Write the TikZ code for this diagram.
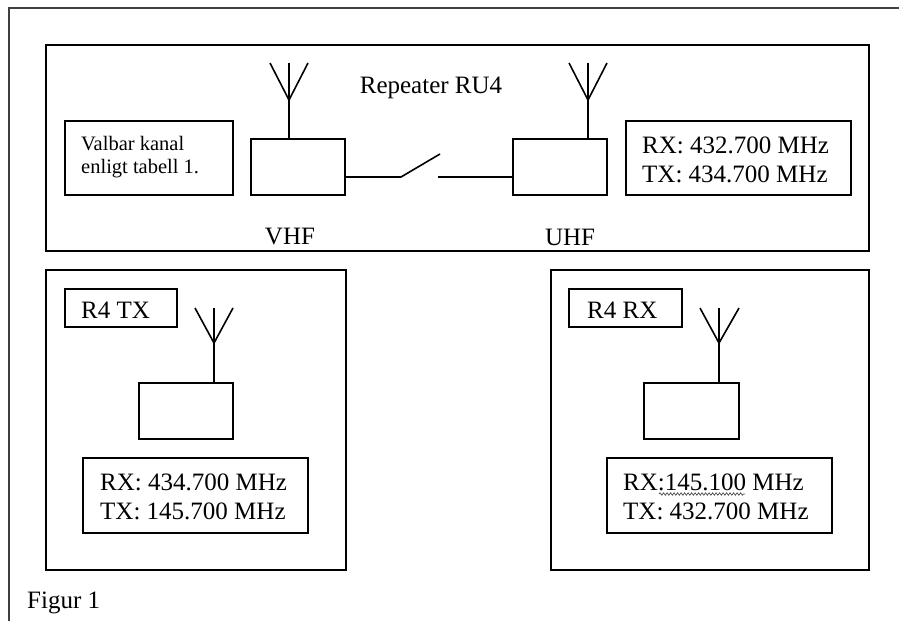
\documentclass[tikz,border=0pt]{standalone}
\usepackage{fontspec}
\setmainfont{Liberation Serif}
\usetikzlibrary{decorations.pathmorphing}
\begin{document}
\begin{tikzpicture}[x=1pt,y=-1pt,
  box/.style={draw=black,line width=1.6pt,inner sep=0pt,rectangle},
  wire/.style={draw=black,line width=1.6pt},
  lbl/.style={inner sep=0pt,font=\fontsize{25}{29}\selectfont,align=left},
  small/.style={inner sep=0pt,font=\fontsize{20.5}{23}\selectfont,align=left},
  frame/.style={draw=black!75,line width=2.2pt}]
\useasboundingbox (0,0) rectangle (899,621);
% outer frame (open to right and bottom)
\coordinate (f1) at (9,621);
\coordinate (f2) at (9,8);
\coordinate (f3) at (899,8);
\draw[frame] (f1) -- (f2) -- (f3);
% repeater box
\node[box,minimum width=823pt,minimum height=206pt] (rep) at (457.5,148) {};
\node[lbl] (reptxt) at (431,88) {Repeater RU4};
\node[box,minimum width=168pt,minimum height=74pt] (valbar) at (149,158) {};
\node[small,anchor=west] (valtxt) at (81,157) {Valbar kanal\\enligt tabell 1.};
% VHF
\node[box,minimum width=94pt,minimum height=56pt] (vhf) at (298,167) {};
\coordinate (vhfv) at (289,100);
\coordinate (vhft) at (289,63);
\coordinate (vhfl) at (270,63);
\coordinate (vhfr) at (308,63);
\draw[wire] (vhfv |- vhf.north) -- (vhft);
\draw[wire] (vhfl) -- (vhfv) -- (vhfr);
\node[lbl] (vhftxt) at (290,237) {VHF};
% UHF
\node[box,minimum width=94pt,minimum height=56pt] (uhf) at (560,167) {};
\coordinate (uhfv) at (588,100);
\coordinate (uhft) at (588,63);
\coordinate (uhfl) at (569,63);
\coordinate (uhfr) at (607,63);
\draw[wire] (uhfv |- uhf.north) -- (uhft);
\draw[wire] (uhfl) -- (uhfv) -- (uhfr);
\node[lbl] (uhftxt) at (570,237) {UHF};
% switch
\coordinate (sw1) at (401,177);
\coordinate (sw2) at (440,154);
\coordinate (sw3) at (438,177);
\draw[wire] (vhf.east |- sw1) -- (sw1) -- (sw2);
\draw[wire] (sw3) -- (uhf.west |- sw3);
% top frequency box
\node[box,minimum width=225pt,minimum height=74pt] (repf) at (738.5,158) {};
\node[lbl,anchor=west] (repftxt) at (642,160) {RX: 432.700 MHz\\TX: 434.700 MHz};
% R4 TX
\node[box,minimum width=300pt,minimum height=300pt] (tx) at (196,420) {};
\node[box,minimum width=112pt,minimum height=38pt] (txl) at (121,308) {};
\node[lbl,anchor=west] (txltxt) at (81,310) {R4 TX};
\node[box,minimum width=94pt,minimum height=56pt] (txr) at (186,411) {};
\coordinate (txv) at (214,343);
\coordinate (txt) at (214,308);
\coordinate (txal) at (195,308);
\coordinate (txar) at (233,308);
\draw[wire] (txv |- txr.north) -- (txt);
\draw[wire] (txal) -- (txv) -- (txar);
\node[box,minimum width=225pt,minimum height=75pt] (txf) at (195.5,495.5) {};
\node[lbl,anchor=west] (txftxt) at (100,497) {RX: 434.700 MHz\\TX: 145.700 MHz};
% R4 RX
\node[box,minimum width=318pt,minimum height=300pt] (rx) at (710,420) {};
\node[box,minimum width=113pt,minimum height=38pt] (rxl) at (625.5,308) {};
\node[lbl,anchor=west] (rxltxt) at (587,310) {R4 RX};
\node[box,minimum width=95pt,minimum height=56pt] (rxr) at (691.5,411) {};
\coordinate (rxv) at (719,343);
\coordinate (rxt) at (719,308);
\coordinate (rxal) at (700,308);
\coordinate (rxar) at (739,308);
\draw[wire] (rxv |- rxr.north) -- (rxt);
\draw[wire] (rxal) -- (rxv) -- (rxar);
\node[box,minimum width=225pt,minimum height=75pt] (rxf) at (719.5,495.5) {};
\node[lbl,anchor=west] (rxftxt) at (623,497) {RX:145.100 MHz\\TX: 432.700 MHz};
\coordinate (sq1) at (659,494);
\coordinate (sq2) at (745,494);
\draw[black!70,line width=0.7pt,decorate,decoration={snake,amplitude=1.2pt,segment length=3.5pt}] (sq1) -- (sq2);
% caption
\node[lbl,anchor=west] (fig) at (27,603) {Figur 1};
\end{tikzpicture}
\end{document}
